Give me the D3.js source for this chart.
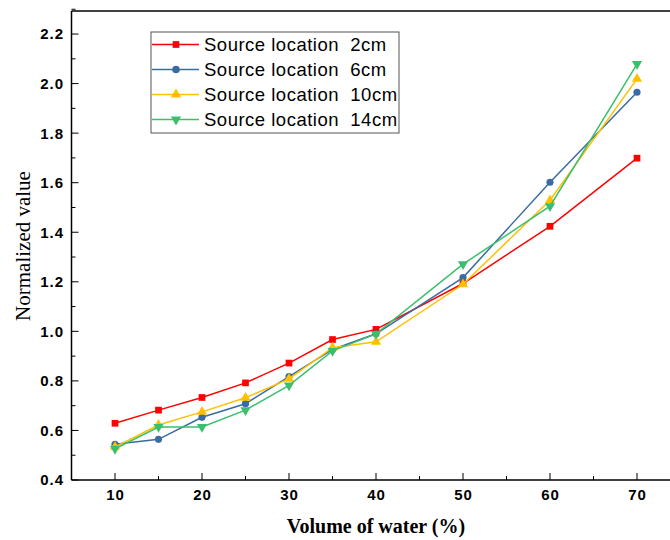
<!DOCTYPE html>
<html lang="en">
<head>
<meta charset="UTF-8">
<title>Normalized value vs volume of water</title>
<style>
  body { margin: 0; padding: 0; background: #fff; }
  svg { display: block; }
  .tick-label { font-family: Arial, "Liberation Sans", sans-serif; font-weight: bold; font-size: 15px; letter-spacing: 1px; fill: #000; }
  .axis-title { font-family: "Times New Roman", "Liberation Serif", serif; fill: #000; }
  .legend-text { font-family: Arial, "Liberation Sans", sans-serif; font-size: 18.5px; letter-spacing: 0.5px; fill: #000; white-space: pre; }
</style>
<script src="https://d3js.org/d3.v7.min.js"></script>
</head>
<body>
<div id="chart"></div>
<script>
// data
const waterVolume = [10, 15, 20, 25, 30, 35, 40, 50, 60, 70];
const seriesNames = ["Source location  2cm", "Source location  6cm", "Source location  10cm", "Source location  14cm"];
const loc2cm  = [0.629, 0.682, 0.733, 0.792, 0.872, 0.967, 1.008, 1.193, 1.424, 1.699];
const loc6cm  = [0.544, 0.564, 0.653, 0.708, 0.817, 0.927, 0.990, 1.217, 1.602, 1.965];
const loc10cm = [0.534, 0.622, 0.675, 0.732, 0.808, 0.934, 0.958, 1.190, 1.529, 2.019];
const loc14cm = [0.526, 0.614, 0.614, 0.682, 0.782, 0.921, 0.990, 1.271, 1.505, 2.079];
const xTicks = [10, 20, 30, 40, 50, 60, 70];
const yTicks = [0.4, 0.6, 0.8, 1.0, 1.2, 1.4, 1.6, 1.8, 2.0, 2.2];

const colors = ["#ff0000", "#3a6ba3", "#ffc000", "#3cbf6c"];
const markers = [d3.symbolSquare, d3.symbolCircle, d3.symbolTriangle, d3.symbolTriangle];
const allSeries = [loc2cm, loc6cm, loc10cm, loc14cm];

const W = 670, H = 540;
const plotLeft = 71.5, plotBottom = 480, plotTop = 11;

const svg = d3.select("#chart").append("svg")
  .attr("width", W).attr("height", H);

const x = d3.scaleLinear().domain([5, 75]).range([plotLeft, plotLeft + 70 * 8.7]);
const y = d3.scaleLinear().domain([0.4, 2.293]).range([plotBottom, plotTop]);

// frame: top line, left and bottom axes (right side is cut off)
svg.append("line").attr("x1", plotLeft).attr("x2", W).attr("y1", plotTop).attr("y2", plotTop)
  .attr("stroke", "#000").attr("stroke-width", 1.5);

// x axis
const xAxis = svg.append("g").attr("transform", `translate(0,${plotBottom})`);
xAxis.append("line").attr("x1", plotLeft).attr("x2", W).attr("stroke", "#000").attr("stroke-width", 1.5);
xAxis.selectAll(".major").data(xTicks).enter().append("line")
  .attr("x1", d => x(d)).attr("x2", d => x(d)).attr("y1", 0).attr("y2", -7)
  .attr("stroke", "#000").attr("stroke-width", 1);
xAxis.selectAll(".minor").data(xTicks.map(d => d + 5)).enter().append("line")
  .attr("x1", d => x(d)).attr("x2", d => x(d)).attr("y1", 0).attr("y2", -4)
  .attr("stroke", "#000").attr("stroke-width", 1);
xAxis.selectAll("text").data(xTicks).enter().append("text")
  .attr("class", "tick-label")
  .attr("x", d => x(d) + 0.5).attr("y", 20)
  .attr("text-anchor", "middle")
  .text(d => d);

// y axis
const yAxis = svg.append("g").attr("transform", `translate(${plotLeft},0)`);
yAxis.append("line").attr("y1", plotTop).attr("y2", plotBottom).attr("stroke", "#000").attr("stroke-width", 1.5);
yAxis.selectAll(".major").data(yTicks).enter().append("line")
  .attr("y1", d => y(d)).attr("y2", d => y(d)).attr("x1", 0).attr("x2", 7)
  .attr("stroke", "#000").attr("stroke-width", 1);
yAxis.selectAll(".minor").data(yTicks.map(d => d + 0.1)).enter().append("line")
  .attr("y1", d => y(d)).attr("y2", d => y(d)).attr("x1", 0).attr("x2", 4)
  .attr("stroke", "#000").attr("stroke-width", 1);
yAxis.selectAll("text").data(yTicks).enter().append("text")
  .attr("class", "tick-label")
  .attr("x", -7.5).attr("y", d => y(d)).attr("dy", "0.36em")
  .attr("text-anchor", "end")
  .text(d => d.toFixed(1));

// axis titles
svg.append("text").attr("class", "axis-title")
  .attr("transform", "translate(30,246) rotate(-90)")
  .attr("text-anchor", "middle")
  .attr("font-size", 21)
  .text("Normalized value");
svg.append("text").attr("class", "axis-title")
  .attr("x", 376).attr("y", 533)
  .attr("text-anchor", "middle")
  .attr("font-size", 20)
  .attr("font-weight", "bold")
  .text("Volume of water (%)");

// lines + markers
const line = d3.line().x((d, i) => x(waterVolume[i])).y(d => y(d));
allSeries.forEach((vals, s) => {
  const g = svg.append("g");
  g.append("path").datum(vals).attr("d", line)
    .attr("fill", "none").attr("stroke", colors[s]).attr("stroke-width", 1.5);
  g.selectAll("path.mk").data(vals).enter().append("path")
    .attr("class", "mk")
    .attr("d", d3.symbol().type(markers[s]).size(s === 1 ? 40 : 45))
    .attr("transform", (d, i) => `translate(${x(waterVolume[i])},${y(d)})${s === 3 ? " rotate(180)" : ""}`)
    .attr("fill", colors[s]);
});

// legend
const legend = svg.append("g").attr("transform", "translate(151,32)");
legend.append("rect").attr("width", 248).attr("height", 101)
  .attr("fill", "#fff").attr("stroke", "#555").attr("stroke-width", 1);
seriesNames.forEach((name, s) => {
  const row = legend.append("g").attr("transform", `translate(0,${12.5 + s * 25})`);
  row.append("line").attr("x1", 1).attr("x2", 48).attr("stroke", colors[s]).attr("stroke-width", 1.5);
  row.append("path")
    .attr("d", d3.symbol().type(markers[s]).size(45))
    .attr("transform", `translate(25,0)${s === 3 ? " rotate(180)" : ""}`)
    .attr("fill", colors[s]);
  row.append("text").attr("class", "legend-text")
    .attr("x", 53).attr("dy", "0.36em")
    .text(name);
});
</script>
</body>
</html>
